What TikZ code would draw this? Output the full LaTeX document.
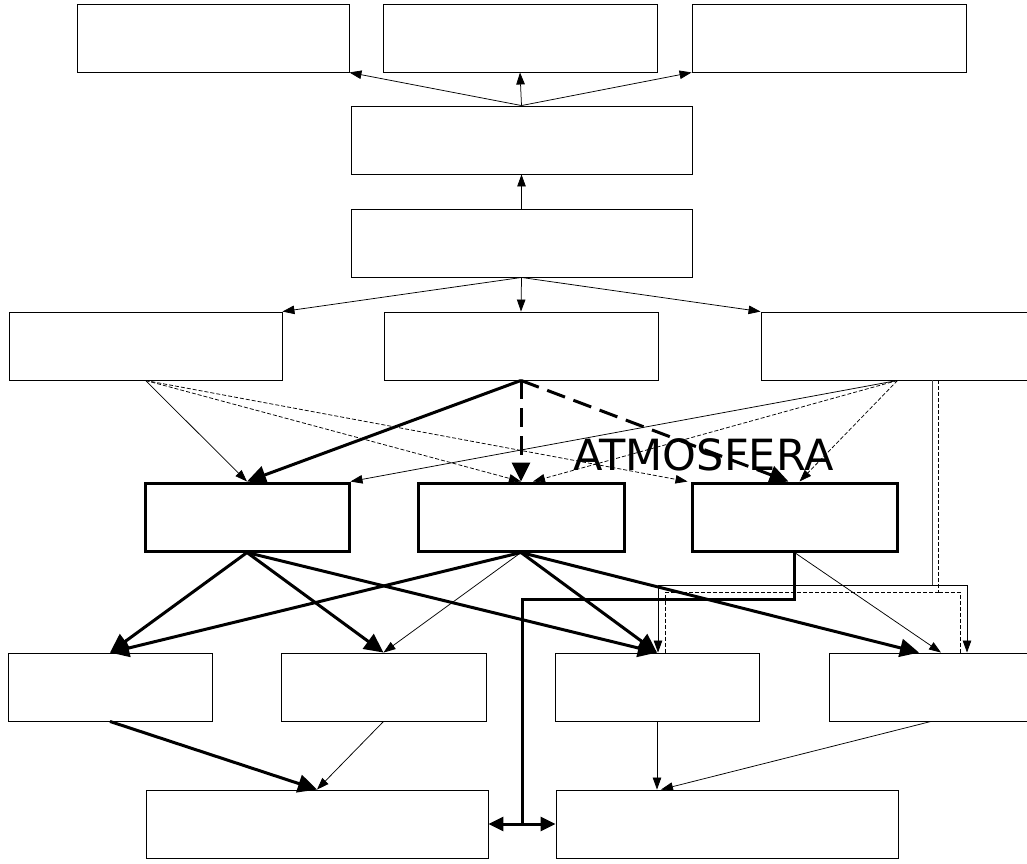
\documentclass[tikz,border=0pt]{standalone}
\usepackage{fontspec}
\newfontfamily\dejavu{DejaVu Sans}
\usetikzlibrary{arrows.meta,calc}
\tikzset{
  box/.style={draw, line width=0.9pt, minimum height=68pt, inner sep=0pt},
  tbox/.style={draw, line width=3pt, minimum height=68pt, inner sep=0pt},
  thinarr/.style={line width=0.75pt, -{Triangle[length=12pt,width=8.5pt]}},
  thickarr/.style={line width=3pt, -{Triangle[length=19pt,width=18pt]}},
  thindash/.style={thinarr, dash pattern=on 4pt off 2pt},
  thickdash/.style={thickarr, dash pattern=on 19pt off 9pt},
}
\begin{document}
\begin{tikzpicture}[x=1pt,y=-1pt]
\useasboundingbox (0,0) rectangle (1027,863);
% row 1
\node[box, minimum width=272pt] (a1) at (213,38) {};
\node[box, minimum width=274pt] (a2) at (520,38) {};
\node[box, minimum width=274pt] (a3) at (829,38) {};
% row 2,3
\node[box, minimum width=341pt] (b) at (521.5,140) {};
\node[box, minimum width=341pt] (c) at (521.5,243) {};
% row 4
\node[box, minimum width=273pt] (d1) at (145.5,346) {};
\node[box, minimum width=274pt] (d2) at (521,346) {};
\node[box, minimum width=273pt] (d3) at (897.5,346) {};
% row 5
\node[tbox, minimum width=204pt] (e1) at (247,517) {};
\node[tbox, minimum width=206pt] (e2) at (521,517) {};
\node[tbox, minimum width=205pt] (e3) at (794.5,517) {};
% row 6
\node[box, minimum width=204pt] (f1) at (110,687) {};
\node[box, minimum width=205pt] (f2) at (383.5,687) {};
\node[box, minimum width=204pt] (f3) at (657,687) {};
\node[box, minimum width=204pt] (f4) at (931,687) {};
% row 7
\node[box, minimum width=342pt] (g1) at (317,824) {};
\node[box, minimum width=342pt] (g2) at (727,824) {};

% text
\node[anchor=base, inner sep=0pt, font=\dejavu\fontsize{43}{43}\selectfont] (atm) at (703.5,470) {ATMOSFERA};

% top arrows
\draw[thinarr] (b.north) -- (a1.south east);
\draw[thinarr] (b.north) -- (a2.south);
\draw[thinarr] (b.north) -- (a3.south west);
\draw[thinarr] (c.north) -- (b.south);
\draw[thinarr] (c.south) -- (d1.north east);
\draw[thinarr] (c.south) -- (d2.north);
\draw[thinarr] (c.south) -- (d3.north west);

% row 4 -> row 5
\draw[thinarr] (d1.south) -- (e1.north);
\draw[thindash] (d1.south) -- (e2.north);
\draw[thindash] (d1.south) -- ([xshift=-3pt]e3.north west);
\draw[thickarr] (d2.south) -- (e1.north);
\draw[thickdash] (d2.south) -- (e2.north);
\draw[thickdash] (d2.south) -- ([xshift=-6pt]e3.north);
\draw[thinarr] (d3.south) -- (e1.north east);
\draw[thindash] (d3.south) -- ([xshift=12pt]e2.north);
\draw[thindash] (d3.south) -- ([xshift=5pt]e3.north);

% row 5 -> row 6
\draw[thickarr] (e1.south) -- (f1.north);
\draw[thickarr] (e1.south) -- (f2.north);
\draw[thickarr] (e1.south) -- (f3.north);
\draw[thickarr] (e2.south) -- (f1.north);
\draw[thinarr] (e2.south) -- (f2.north);
\draw[thickarr] (e2.south) -- (f3.north);
\draw[thickarr] (e2.south) -- ([xshift=-12pt]f4.north);
\draw[thinarr] (e3.south) -- ([xshift=10pt]f4.north);

% right side bypass lines
\draw[line width=0.8pt, black!75] ([xshift=34.5pt]d3.south) -- ++(0,205) coordinate (r1);
\draw[thinarr] (r1) -| ([xshift=1pt]f3.north);
\draw[thinarr] (r1) -| ([xshift=36pt]f4.north);
\draw[line width=0.7pt, dash pattern=on 4pt off 2pt] ([xshift=41pt]d3.south) -- ++(0,212) coordinate (r2);
\draw[line width=0.7pt, dash pattern=on 4pt off 2pt] (r2) -| ([xshift=8pt]f3.north);
\draw[line width=0.7pt, dash pattern=on 4pt off 2pt] (r2) -| ([xshift=29pt]f4.north);

% thick connector from e3 to junction between g1 and g2
\coordinate (j) at ($(g1.east)!0.5!(g2.west)$);
\draw[line width=3pt] (e3.south) -- ++(0,47) -| (j);
\draw[line width=3pt, {Triangle[length=15pt,width=14pt]}-{Triangle[length=15pt,width=14pt]}] (g1.east) -- (g2.west);

% row 6 -> row 7
\draw[thickarr] (f1.south) -- (g1.north);
\draw[thinarr] (f2.south) -- (g1.north);
\draw[thinarr] (f3.south) -- ([xshift=-70pt]g2.north);
\draw[thinarr] (f4.south) -- ([xshift=-66pt]g2.north);
\end{tikzpicture}
\end{document}
